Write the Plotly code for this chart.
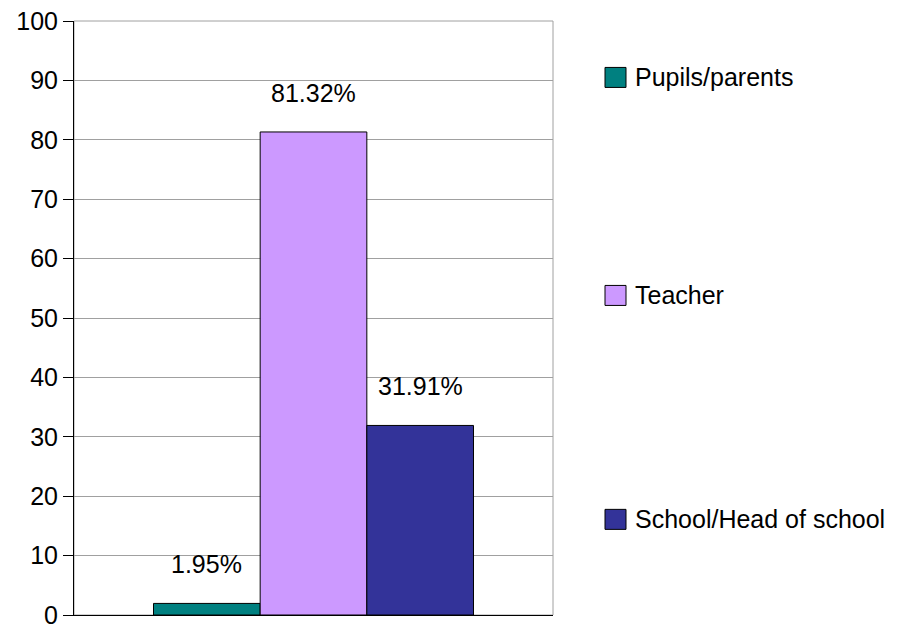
import plotly.graph_objects as go

# values
groups = ["Pupils/parents", "Teacher", "School/Head of school"]
values = [1.95, 81.32, 31.91]
labels = ["1.95%", "81.32%", "31.91%"]
colors = ["#008080", "#CC99FF", "#333399"]
y_ticks = [0, 10, 20, 30, 40, 50, 60, 70, 80, 90, 100]

FONT = "Liberation Sans, Arial"
PLOT_W, PLOT_H = 479, 594

fig = go.Figure()
for name, val, col in zip(groups, values, colors):
    fig.add_trace(go.Bar(
        x=[""], y=[val], name=name,
        marker=dict(color=col, line=dict(color="black", width=1)),
        showlegend=False,
    ))

# value labels above each bar
n = len(values)
group_w = 1 - 0.332
for i, (val, txt) in enumerate(zip(values, labels)):
    xpos = -group_w / 2 + group_w / n * (i + 0.5)
    fig.add_annotation(x=xpos, y=val, xref="x", yref="y", text=txt,
                       showarrow=False, yanchor="bottom", yshift=23,
                       font=dict(size=25, color="black", family=FONT))

# hand-made legend, the plotly one has tiny swatches
legend_y = [0.905, 0.538, 0.161]
sx = (605 - 74) / PLOT_W
for name, col, ly in zip(groups, colors, legend_y):
    fig.add_shape(type="rect", xref="paper", yref="paper",
                  x0=sx, x1=sx + 21 / PLOT_W, y0=ly - 10 / PLOT_H, y1=ly + 10 / PLOT_H,
                  fillcolor=col, line=dict(color="black", width=1))
    fig.add_annotation(xref="paper", yref="paper", x=sx + 28 / PLOT_W, y=ly,
                       text=name, showarrow=False, xanchor="left", yanchor="middle",
                       font=dict(size=25, color="black", family=FONT))

# gray border around the plot area
fig.add_shape(type="rect", xref="paper", yref="paper", x0=0, x1=1, y0=0, y1=1,
              line=dict(color="#a0a0a0", width=1), layer="below")

fig.update_layout(
    width=898, height=630,
    margin=dict(l=74, r=345, t=21, b=15),
    plot_bgcolor="white", paper_bgcolor="white",
    barmode="group", bargap=0.332, bargroupgap=0,
    font=dict(family=FONT, color="black"),
)
fig.update_xaxes(showticklabels=False, showline=True, linecolor="black",
                 showgrid=False, range=[-0.5, 0.5], automargin=False)
fig.update_yaxes(range=[0, 100], tickvals=y_ticks, showgrid=True, gridcolor="#a0a0a0",
                 showline=True, linecolor="black", ticks="outside", ticklen=10,
                 tickcolor="black", tickfont=dict(size=25, family=FONT),
                 ticklabeloverflow="allow", zeroline=False, automargin=False)

# drop the default 8px body margin so the figure fills the window
fig.write_html("out.html", config={"displayModeBar": False},
               post_script="document.body.style.margin='0';document.body.style.overflow='hidden';")
